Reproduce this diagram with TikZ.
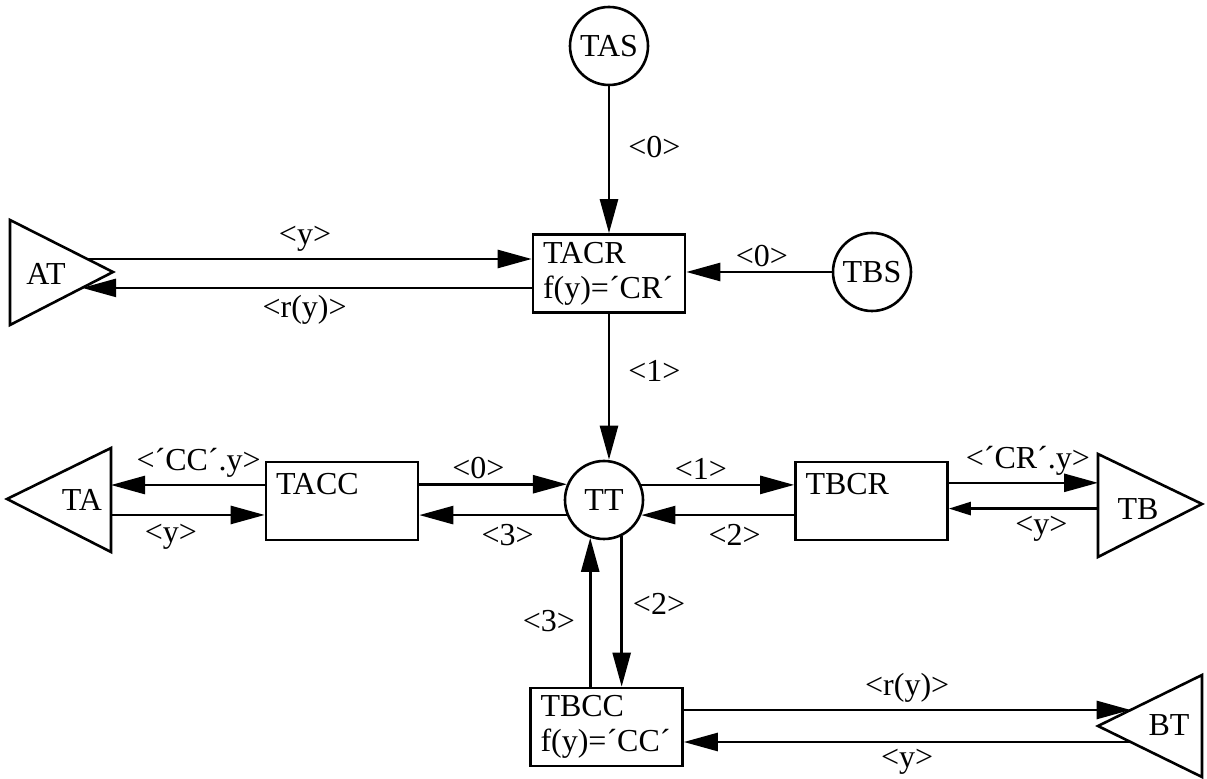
\documentclass[tikz,border=0pt]{standalone}
\usepackage{fontspec}
\setmainfont{Liberation Serif}
\usetikzlibrary{arrows.meta, calc}

\begin{document}
\begin{tikzpicture}[x=0.5pt, y=-0.5pt, every node/.style={font=\fontsize{16}{17.5}\selectfont},
   blk/.style={draw, line width=1.3pt, minimum width=76pt, minimum height=39pt, inner xsep=5pt, text width=66pt, align=left},
   src/.style={draw, circle, line width=1.3pt, minimum size=39pt, inner sep=0pt},
   tri/.style={draw, line width=1.3pt, line join=miter},
   arr/.style={-{Triangle[length=17pt, width=9pt]}, line width=1.3pt},
   sarr/.style={-{Triangle[length=11pt, width=6.5pt]}, line width=1.3pt},
   lab/.style={inner sep=2pt}]
  \useasboundingbox (0,0) rectangle (1207,779);
  % blocks and sources
  \node[blk] (tacr) at (609,273.5) {TACR\\f(y)=´CR´};
  \node[blk] (tacc) at (342,501) {TACC\\\mbox{}};
  \node[blk] (tbcr) at (871.5,501) {TBCR\\\mbox{}};
  \node[blk] (tbcc) at (606.5,727) {TBCC\\f(y)=´CC´};
  \node[src] (tas) at (609,46) {TAS};
  \node[src] (tbs) at (872,272) {TBS};
  \node[src] (tt) at (604,500) {TT};
  % terminals
  \coordinate (at1) at (10,220); \coordinate (at2) at (113,272); \coordinate (at3) at (10,325);
  \coordinate (ta1) at (111,448); \coordinate (ta2) at (111,552); \coordinate (ta3) at (7,499);
  \coordinate (tb1) at (1098,454); \coordinate (tb2) at (1098,557); \coordinate (tb3) at (1202,504);
  \coordinate (bt1) at (1202,675); \coordinate (bt2) at (1098,726); \coordinate (bt3) at (1202,777);
  \draw[tri] (at1) -- (at2) -- (at3) -- cycle;
  \draw[tri] (ta1) -- (ta2) -- (ta3) -- cycle;
  \draw[tri] (tb1) -- (tb2) -- (tb3) -- cycle;
  \draw[tri] (bt1) -- (bt2) -- (bt3) -- cycle;
  \node (at) at (46,274) {AT};
  \node (ta) at (82,500) {TA};
  \node (tb) at (1138,509) {TB};
  \node (bt) at (1169,725) {BT};
  \coordinate (atin) at ($(at1)!.75!(at2)$);
  \coordinate (atout) at ($(at2)!.3!(at3)$);
  \coordinate (tain) at ($(ta1)!.356!(ta2)$);
  \coordinate (taout) at ($(ta1)!.644!(ta2)$);
  \coordinate (tbin) at ($(tb1)!.28!(tb2)$);
  \coordinate (tbout) at ($(tb1)!.53!(tb2)$);
  \coordinate (btin) at ($(bt1)!.686!(bt2)$);
  \coordinate (btout) at ($(bt2)!.314!(bt3)$);
  % messages
  \draw[arr] (tas) -- (tacr) node[lab, pos=.41, right=7pt] (l-tas) {<0>};
  \draw[arr] (tbs) -- (tbs -| tacr.east) node[lab, pos=.48, above=0pt] (l-tbs) {<0>};
  \draw[arr] (atin) -- (atin -| tacr.west) node[lab, pos=.49, above=1pt] (l-at1) {<y>};
  \draw[arr] (atout -| tacr.west) -- (atout) node[lab, pos=.505, below=1pt] (l-at2) {<r(y)>};
  \draw[arr] (tacr.south) -- (tacr.south |- tt.north) node[lab, pos=.39, right=7pt] (l-tacr) {<1>};
  \draw[arr] (tain -| tacc.west) -- (tain) node[lab, pos=.43, above=1pt] (l-ta1) {<´CC´.y>};
  \draw[arr] (taout) -- (taout -| tacc.west) node[lab, pos=.39, below=2pt] (l-ta2) {<y>};
  \draw[arr] (tacc.east |- tt.157.4) -- (tt.157.4) node[lab, pos=.4, above=0pt] (l-tacc1) {<0>};
  \draw[arr] (tt.202.6) -- (tt.202.6 -| tacc.east) node[lab, pos=.4, below=2pt] (l-tacc2) {<3>};
  \draw[arr] (tt.22.6) -- (tt.22.6 -| tbcr.west) node[lab, pos=.39, above=0pt] (l-tbcr1) {<1>};
  \draw[arr] (tbcr.west |- tt.-22.6) -- (tt.-22.6) node[lab, pos=.39, below=2pt] (l-tbcr2) {<2>};
  \draw[arr] (tbin -| tbcr.east) -- (tbin) node[lab, pos=.53, above=1pt] (l-tb1) {<´CR´.y>};
  \draw[sarr] (tbout) -- (tbout -| tbcr.east) node[lab, pos=.38, below=1pt] (l-tb2) {<y>};
  \draw[arr] (tt.-64.2) -- (tt.-64.2 |- tbcc.north) node[lab, pos=.45, right=3pt] (l-tbcc1) {<2>};
  \draw[arr] (tt.250.5 |- tbcc.north) -- (tt.250.5) node[lab, pos=.44, left=5pt] (l-tbcc2) {<3>};
  \draw[arr] (btin -| tbcc.east) -- (btin) node[lab, pos=.5, above=1pt] (l-bt1) {<r(y)>};
  \draw[arr] (btout) -- (btout -| tbcc.east) node[lab, pos=.5, below=1pt] (l-bt2) {<y>};
\end{tikzpicture}
\end{document}
